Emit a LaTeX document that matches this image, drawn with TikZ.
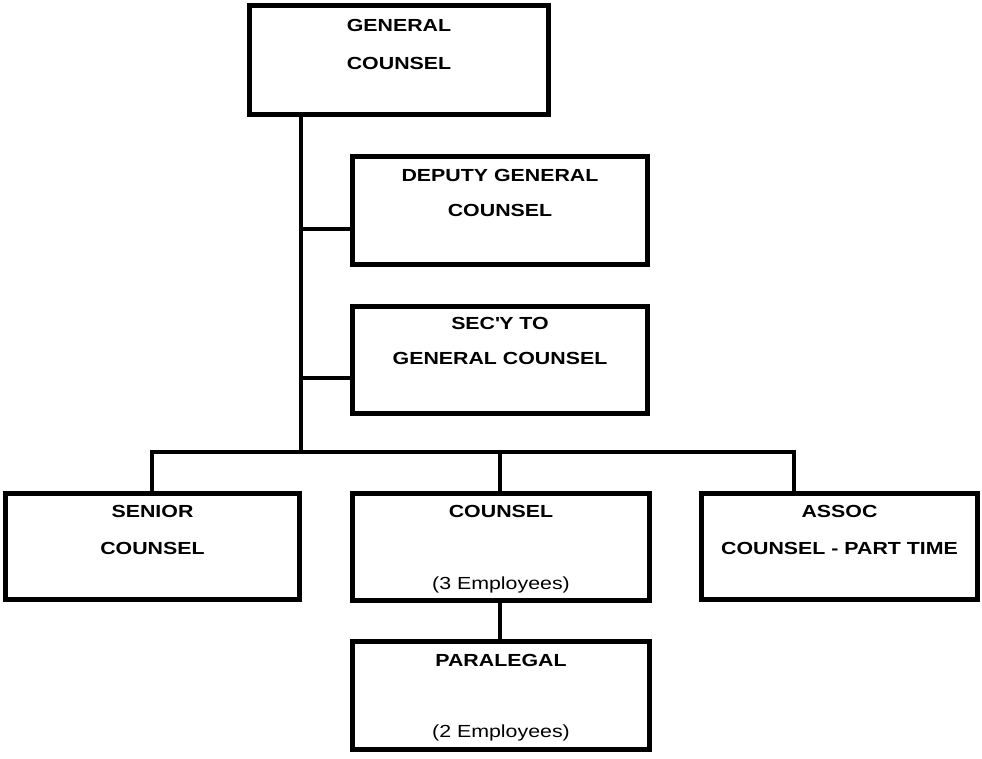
\documentclass[tikz,border=0pt]{standalone}
\usepackage{fontspec}
\setmainfont{Liberation Sans}[FakeStretch=1.22]
\begin{document}
\begin{tikzpicture}[x=1pt,y=-1pt,
  box/.style={draw, line width=5pt, inner sep=0pt},
  conn/.style={line width=4pt},
  lbl/.style={inner sep=0pt, font=\fontsize{17.5}{17.5}\selectfont\bfseries},
  sub/.style={inner sep=0pt, font=\fontsize{17.5}{17.5}\selectfont}]
\useasboundingbox[fill=white] (0,0) rectangle (982,759);
% boxes
\node[box, minimum width=299pt, minimum height=109pt] (gc)  at (399,60) {};
\node[box, minimum width=295pt, minimum height=108pt] (dep) at (500,210.5) {};
\node[box, minimum width=295pt, minimum height=107pt] (sec) at (500,360) {};
\node[box, minimum width=294pt, minimum height=106pt] (sen) at (152.5,546.5) {};
\node[box, minimum width=297pt, minimum height=107pt] (cou) at (501,547) {};
\node[box, minimum width=276pt, minimum height=106pt] (aso) at (839.5,546.5) {};
\node[box, minimum width=297pt, minimum height=108pt] (par) at (501,695.5) {};
% texts
\node[lbl] (gc1) at (399,25) {GENERAL};
\node[lbl] (gc2) at (399,63) {COUNSEL};
\node[lbl] (dep1) at (500,175) {DEPUTY GENERAL};
\node[lbl] (dep2) at (500,210) {COUNSEL};
\node[lbl] (sec1) at (500,323) {SEC\textquotesingle Y TO};
\node[lbl] (sec2) at (500,358) {GENERAL COUNSEL};
\node[lbl] (sen1) at (152.5,511) {SENIOR};
\node[lbl] (sen2) at (152.5,548) {COUNSEL};
\node[lbl] (cou1) at (501,511) {COUNSEL};
\node[sub] (cou2) at (501,585) {(3 Employees)};
\node[lbl] (aso1) at (839.5,511) {ASSOC};
\node[lbl] (aso2) at (839.5,548) {COUNSEL - PART TIME};
\node[lbl] (par1) at (501,660) {PARALEGAL};
\node[sub] (par2) at (501,733) {(2 Employees)};
% connectors
\coordinate (sp) at (301,452);
\coordinate (db) at (301,229);
\coordinate (sb) at (301,378);
\coordinate (bl) at (152,452);
\coordinate (bc) at (500,452);
\coordinate (br) at (794,452);
\draw[conn] (gc.south -| sp) -- (sp);
\draw[conn] (db) -- (db -| dep.west);
\draw[conn] (sb) -- (sb -| sec.west);
\draw[conn, line join=miter] (bl |- sen.north) -- (bl) -- (br) -- (br |- aso.north);
\draw[conn] (bc) -- (bc |- cou.north);
\draw[conn] (cou.south -| bc) -- (par.north -| bc);
\end{tikzpicture}
\end{document}
